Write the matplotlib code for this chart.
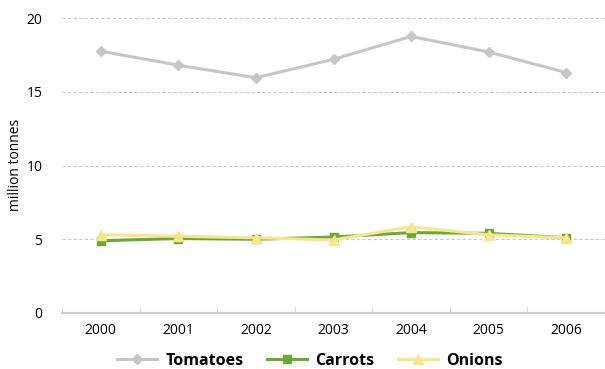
import matplotlib.pyplot as plt

years = ['2000', '2001', '2002', '2003', '2004', '2005', '2006']
tomatoes = [17.75, 16.8, 15.95, 17.2, 18.75, 17.7, 16.3]
carrots = [4.9, 5.05, 5.0, 5.15, 5.45, 5.4, 5.1]
onions = [5.3, 5.2, 5.1, 4.95, 5.85, 5.3, 5.1]

plt.rcParams['font.family'] = ['Open Sans', 'DejaVu Sans']

fig = plt.figure(figsize=(6.05, 3.69), dpi=100)
ax = fig.add_axes([62 / 605, 1 - 313 / 369, 543 / 605, 295 / 369])

x = list(range(len(years)))
ax.plot(x, tomatoes, color='#c6c6c6', lw=2.2, marker='D', ms=5.5, label='Tomatoes', zorder=3)
ax.plot(x, carrots, color='#6aa936', lw=2.2, marker='s', ms=5.5, label='Carrots', zorder=4)
ax.plot(x, onions, color='#f8e58e', lw=2.2, marker='^', ms=7, label='Onions', zorder=5)

ax.set_xlim(-0.5, 6.5)
ax.set_ylim(0, 20)
ax.set_yticks([0, 5, 10, 15, 20])
ax.set_xticks(x)
ax.set_xticklabels(years)
ax.set_xticks([i - 0.5 for i in range(8)], minor=True)
ax.tick_params(axis='x', which='major', length=0, pad=7, labelsize=10)
ax.tick_params(axis='x', which='minor', length=4, direction='in', color='#cccccc')
ax.tick_params(axis='y', length=0, pad=14, labelsize=10)

for spine in ['top', 'right', 'left']:
    ax.spines[spine].set_visible(False)
ax.spines['bottom'].set_color('#cccccc')
ax.spines['bottom'].set_linewidth(1.5)

for v in [5, 10, 15, 20]:
    ax.axhline(v, color='#c8c8c8', lw=0.8, ls=(0, (3, 2)), zorder=1)

fig.text(16 / 605, 1 - 165 / 369, 'million tonnes', rotation=90, ha='center', va='center', fontsize=10)

fig.legend(loc='center', bbox_to_anchor=(310 / 605, 1 - 361 / 369), ncol=3, frameon=False,
           handlelength=2.5, columnspacing=1.5, handletextpad=0.5,
           prop={'weight': 'bold', 'size': 11.5})

fig.savefig('out.png', dpi=100)
